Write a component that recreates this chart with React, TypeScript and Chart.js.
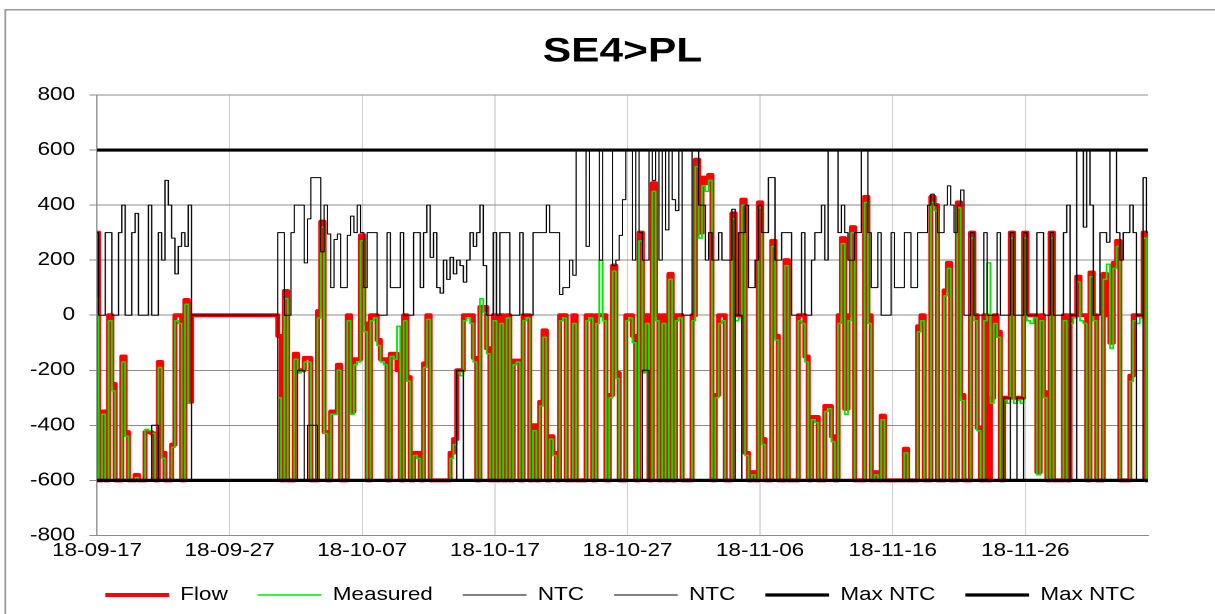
import React, { useEffect, useRef } from 'react';
import { Chart, registerables } from 'chart.js';

Chart.register(...registerables);

// ---- data (4 samples per day, starting 2018-09-17 00:00) ----
const STEPS_PER_DAY = 4;
const tickLabels = ['18-09-17', '18-09-27', '18-10-07', '18-10-17', '18-10-27', '18-11-06', '18-11-16', '18-11-26'];
const seriesNames = ['Flow', 'Measured', 'NTC', 'NTC', 'Max NTC', 'Max NTC'];

const flow = [
  300, -600, -350, -600,
  0, -250, -600, -600,
  -150, -425, -600, -600,
  -580, -600, -600, -425,
  -425, -430, -600, -170,
  -500, -600, -600, -470,
  0, 0, -600, 55,
  -315, 0, 0, 0,
  0, 0, 0, 0,
  0, 0, 0, 0,
  0, 0, 0, 0,
  0, 0, 0, 0,
  0, 0, 0, 0,
  0, 0, 0, -75,
  -600, 88, -600, -600,
  -140, -200, -200, -155,
  -155, -600, -600, 15,
  340, -425, -600, -350,
  -350, -180, -600, -600,
  0, -350, -160, -160,
  290, -30, -600, 0,
  0, -90, -160, -160,
  -600, -140, -140, -200,
  -600, 0, -225, -600,
  -500, -500, -600, -175,
  0, -600, -600, -600,
  -600, -600, -600, -500,
  -450, -200, -200, 0,
  0, 0, -155, -600,
  30, 30, -120, -600,
  0, -600, 0, -600,
  0, -600, -165, -165,
  -600, 0, 0, -600,
  -400, -600, -315, -55,
  -600, -440, -500, -600,
  0, 0, -600, -600,
  0, -600, -600, -600,
  0, 0, -600, 0,
  0, 0, -600, -290,
  180, -210, -600, -600,
  0, 0, -75, -600,
  300, -200, 0, -600,
  480, 0, -600, 0,
  -600, 150, -600, 0,
  0, -600, -600, -600,
  0, 565, 300, 500,
  480, 510, -600, -290,
  0, 0, -600, -600,
  370, 0, 0, 420,
  -500, -600, -570, -600,
  410, -450, -600, -600,
  270, -75, -600, -600,
  200, -600, -600, -600,
  0, 0, -150, -600,
  -370, -370, -600, -600,
  -330, -330, -440, -600,
  0, 280, -340, 0,
  320, -600, -600, -600,
  430, 0, -600, -570,
  -600, -365, -600, -600,
  -600, -600, -600, -600,
  -485, -600, -600, -600,
  -40, 0, -600, -600,
  430, 400, -600, -600,
  90, 190, -600, -600,
  410, -290, -600, -600,
  300, 0, -410, -600,
  0, -600, -300, 0,
  -60, -600, -300, -300,
  300, -300, -300, -300,
  300, 0, 0, 0,
  -570, 0, -280, -600,
  300, -600, -600, -600,
  0, -600, 0, 0,
  140, 0, 0, -600,
  155, 0, -600, -600,
  150, 0, -100, 190,
  270, -600, -600, -600,
  -220, 0, 0, 0,
  300, -600,
];

const measured = [
  60, -600, -360, -600,
  -20, -275, -600, -600,
  -170, -440, -600, -600,
  -590, -600, -600, -415,
  -420, -430, -600, -190,
  -520, -600, -600, -480,
  -20, -30, -600, 40,
  -320, null, null, null,
  null, null, null, null,
  null, null, null, null,
  null, null, null, null,
  null, null, null, null,
  null, null, null, null,
  null, null, null, -300,
  -600, 60, -600, -600,
  -160, -210, -200, -170,
  -170, -600, -600, -10,
  320, -430, -600, -360,
  -360, -200, -600, -600,
  -20, -360, -180, -170,
  270, -60, -600, -20,
  -10, -110, -170, -180,
  -600, -150, -160, -40,
  -600, -20, -240, -600,
  -510, -520, -600, -190,
  -15, -600, -600, -600,
  -600, -600, -600, -520,
  -470, -210, -220, -20,
  -10, -30, -170, -600,
  60, 10, -140, -600,
  -20, -600, -30, -600,
  -10, -600, -180, -170,
  -600, -20, -10, -600,
  -420, -600, -330, -80,
  -600, -450, -510, -600,
  -20, -10, -600, -600,
  -30, -600, -600, -600,
  -20, -10, -600, -30,
  200, -20, -600, -300,
  160, -230, -600, -600,
  -20, -10, -100, -600,
  270, -210, -30, -600,
  450, -20, -600, -30,
  -600, 130, -600, -20,
  -10, -600, -600, -600,
  -20, 540, 280, 470,
  450, 490, -600, -300,
  -30, -20, -600, -600,
  350, -20, -10, 400,
  -510, -600, -580, -600,
  390, -470, -600, -600,
  250, -90, -600, -600,
  180, -600, -600, -600,
  -20, -30, -170, -600,
  -380, -390, -600, -600,
  -350, -340, -460, -600,
  -30, 260, -360, -20,
  300, -600, -600, -600,
  410, -30, -600, -580,
  -600, -380, -600, -600,
  -600, -600, -600, -600,
  -500, -600, -600, -600,
  -60, -20, -600, -600,
  410, 380, -600, -600,
  70, 170, -600, -600,
  390, -310, -600, -600,
  280, -20, -420, -600,
  -20, 190, -320, -30,
  -80, -600, -310, -320,
  280, -320, -310, -320,
  280, -20, -30, -10,
  -580, -20, -300, -600,
  280, -600, -600, -600,
  -20, -600, -30, -10,
  120, -20, -30, -600,
  140, -20, -600, -600,
  130, 185, -120, 170,
  250, -600, -600, -600,
  -240, -20, -30, -10,
  280, -600,
];

const ntcExport = [
  300, 0, 0, 300,
  300, 0, 0, 300,
  400, 0, 0, 300,
  370, 0, 0, 0,
  400, 0, 0, 300,
  200, 490, 400, 280,
  150, 250, 300, 250,
  400, 0, 0, 0,
  0, 0, 0, 0,
  0, 0, 0, 0,
  0, 0, 0, 0,
  0, 0, 0, 0,
  0, 0, 0, 0,
  0, 0, 0, 300,
  300, 0, 0, 300,
  400, 400, 400, 190,
  350, 500, 500, 500,
  230, 400, 295, 100,
  275, 295, 100, 100,
  290, 360, 300, 400,
  300, 100, 300, 300,
  300, 0, 0, 0,
  300, 100, 100, 100,
  300, 0, 0, 0,
  300, 300, 100, 300,
  400, 210, 300, 100,
  80, 200, 130, 210,
  150, 200, 180, 120,
  200, 300, 250, 300,
  400, 180, 0, 0,
  300, 0, 300, 300,
  300, 0, 0, 0,
  300, 0, 0, 0,
  300, 300, 300, 300,
  400, 300, 300, 300,
  75, 100, 100, 200,
  145, 600, 600, 600,
  250, 600, 600, 600,
  200, 600, 600, 600,
  180, 200, 290, 420,
  600, 600, 200, 600,
  300, 200, 200, 600,
  490, 600, 200, 600,
  310, 600, 420, 380,
  600, 0, 0, 0,
  600, 600, 400, 400,
  200, 300, 200, 200,
  300, 200, 200, 200,
  385, 0, 300, 300,
  400, 100, 100, 200,
  400, 300, 300, 500,
  500, 200, 200, 300,
  300, 300, 0, 0,
  0, 300, 0, 0,
  200, 300, 300, 400,
  200, 600, 600, 600,
  300, 400, 300, 200,
  200, 300, 300, 600,
  600, 300, 100, 100,
  300, 0, 0, 0,
  300, 100, 100, 100,
  300, 300, 100, 100,
  300, 300, 300, 400,
  440, 400, 300, 300,
  400, 470, 400, 300,
  400, 455, 0, 0,
  300, 0, 0, 0,
  300, 0, 0, 0,
  300, 0, 0, 0,
  300, 0, 0, 0,
  300, 0, 0, 0,
  300, 300, 0, 0,
  300, 0, 0, 0,
  300, 400, 0, 0,
  600, 600, 320, 600,
  400, 0, 0, 300,
  300, 265, 600, 600,
  300, 200, 300, 300,
  400, 300, 0, 0,
  500, 300,
];

const ntcImport = [
  -600, -600, -600, -600,
  -600, -600, -600, -600,
  -600, -600, -600, -600,
  -600, -600, -600, -600,
  -600, -400, -400, -600,
  -600, -600, -600, -600,
  -600, -600, -600, -600,
  -600, 0, 0, 0,
  0, 0, 0, 0,
  0, 0, 0, 0,
  0, 0, 0, 0,
  0, 0, 0, 0,
  0, 0, 0, 0,
  0, 0, 0, -600,
  -600, -600, -600, -600,
  -600, -200, -200, -600,
  -400, -400, -400, -600,
  -600, -600, -600, -600,
  -600, -600, -600, -600,
  -600, -600, -600, -600,
  -600, -600, -600, -600,
  -600, -600, -600, -600,
  -600, -600, -600, -600,
  -600, -600, -600, -600,
  -600, -600, -600, -600,
  -600, -600, -600, -600,
  -600, -600, -600, -600,
  -600, -200, -200, -600,
  -600, -600, -600, -600,
  -600, -600, -600, -600,
  -600, -600, -600, -600,
  -600, -600, -600, -600,
  -600, -600, -600, -600,
  -600, -600, -600, -600,
  -600, -600, -600, -600,
  -600, -600, -600, -600,
  -600, -600, -600, -600,
  -600, -600, -600, -600,
  -600, -600, -600, -600,
  -600, -600, -600, -600,
  -600, -600, -600, -600,
  -600, -200, -200, -600,
  -600, -600, -600, -600,
  -600, -600, -600, -600,
  -600, -600, -600, -600,
  -600, -600, -600, -600,
  -600, -600, -600, -600,
  -600, -600, -600, -600,
  -600, 0, 0, -600,
  -600, -600, -600, -600,
  -600, -600, -600, -600,
  -600, -600, -600, -600,
  -600, -600, -600, -600,
  -600, -600, -600, -600,
  -600, -600, -600, -600,
  -600, -600, -600, -600,
  -600, -600, -600, -600,
  -600, -600, -600, -600,
  -600, -600, -600, -600,
  -600, -600, -600, -600,
  -600, -600, -600, -600,
  -600, -600, -600, -600,
  -600, -600, -600, -600,
  -600, -600, -600, -600,
  -600, -600, -600, -600,
  -600, -600, -600, -600,
  -600, -600, -600, -600,
  -600, -600, -600, -600,
  -600, -600, -300, -300,
  -600, -600, -300, -300,
  -600, -600, -600, -600,
  -600, -600, -600, -600,
  -600, -600, -600, -600,
  -600, -600, 0, 0,
  -600, -600, -600, -600,
  -600, -600, -600, -600,
  -600, -600, -600, -600,
  -600, -600, -600, -600,
  -600, -600, 0, 0,
  -600, -600,
];

const lastDay = (flow.length - 1) / STEPS_PER_DAY;
const maxNtcDays = [0, lastDay];
const maxNtcExport = [600, 600];
const maxNtcImport = [-600, -600];

// ---- layout (drawing is rendered narrow and stretched horizontally like the reference) ----
const DRAW_W = 972;
const DRAW_H = 614;
const SHOW_W = 1215;
const FONT = "'Liberation Sans', Arial, sans-serif";
const LEGEND_SHIFT = 25;

const toPoints = (vals: (number | null)[]) => vals.map((y, i) => ({ x: i / STEPS_PER_DAY, y }));
const toFixedPoints = (days: number[], vals: number[]) => vals.map((y, i) => ({ x: days[i], y }));

const framePlugin = {
  id: 'frame',
  afterLayout(chart: any) {
    const lg = chart.legend;
    if (lg) {
      lg.left += LEGEND_SHIFT;
      lg.right += LEGEND_SHIFT;
    }
  },
  beforeDraw(chart: any) {
    const ctx = chart.ctx;
    ctx.save();
    ctx.strokeStyle = '#9a9a9a';
    ctx.lineWidth = 1.5;
    ctx.beginPath();
    ctx.moveTo(4.3, chart.height);
    ctx.lineTo(4.3, 9.8);
    ctx.lineTo(chart.width, 9.8);
    ctx.stroke();
    ctx.restore();
  },
};

export default function App() {
  const ref = useRef<HTMLCanvasElement | null>(null);

  useEffect(() => {
    document.body.style.margin = '0';
    const canvas = ref.current;
    if (!canvas) return;
    const lineBase = { pointRadius: 0, tension: 0, fill: false, borderJoinStyle: 'round' as const, borderCapStyle: 'round' as const };
    const chart = new Chart(canvas, {
      type: 'line',
      data: {
        datasets: [
          { ...lineBase, stepped: 'middle', label: seriesNames[0], data: toPoints(flow), borderColor: '#ff0000', backgroundColor: '#ff0000', borderWidth: 4, order: 6 },
          { ...lineBase, stepped: 'middle', label: seriesNames[1], data: toPoints(measured), borderColor: '#00e800', backgroundColor: '#00e800', borderWidth: 1.5, order: 5 },
          { ...lineBase, stepped: 'middle', label: seriesNames[2], data: toPoints(ntcExport), borderColor: '#000000', backgroundColor: '#000000', borderWidth: 1, order: 4 },
          { ...lineBase, stepped: 'middle', label: seriesNames[3], data: toPoints(ntcImport), borderColor: '#000000', backgroundColor: '#000000', borderWidth: 1, order: 3 },
          { ...lineBase, label: seriesNames[4], data: toFixedPoints(maxNtcDays, maxNtcExport), borderColor: '#000000', backgroundColor: '#000000', borderWidth: 3.2, order: 2 },
          { ...lineBase, label: seriesNames[5], data: toFixedPoints(maxNtcDays, maxNtcImport), borderColor: '#000000', backgroundColor: '#000000', borderWidth: 3.2, order: 1 },
        ],
      },
      options: {
        responsive: false,
        animation: false,
        devicePixelRatio: 2,
        events: [],
        layout: { padding: { left: 24, right: 53.6, top: 0, bottom: 0 } },
        plugins: {
          tooltip: { enabled: false },
          title: {
            display: true,
            fullSize: false,
            text: 'SE4>PL',
            color: '#000',
            font: { family: FONT, size: 34, weight: 'bold' },
            padding: { top: 31.6, bottom: 22.6 },
          },
          legend: {
            position: 'bottom',
            labels: {
              usePointStyle: true,
              pointStyle: 'line',
              pointStyleWidth: 51,
              padding: 24,
              color: '#000',
              font: { family: FONT, size: 18 },
              sort: (a: any, b: any) => a.datasetIndex - b.datasetIndex,
            },
          },
        },
        scales: {
          x: {
            type: 'linear',
            min: 0,
            max: lastDay,
            ticks: {
              stepSize: 10,
              includeBounds: false,
              autoSkip: false,
              maxRotation: 0,
              color: '#000',
              padding: 5,
              font: { family: FONT, size: 18 },
              callback: (v: any) => {
                const idx = Number(v) / 10;
                return Number.isInteger(idx) && tickLabels[idx] ? tickLabels[idx] : '';
              },
            },
            grid: {
              color: (c: any) => (c.index === 0 ? '#8c8c8c' : '#d0d0d0'),
              drawTicks: false,
            },
            border: { color: '#8c8c8c' },
            afterFit: (s: any) => { s.height = 26.6; },
          },
          y: {
            min: -800,
            max: 800,
            ticks: {
              stepSize: 200,
              color: '#000',
              padding: 11.6,
              font: { family: FONT, size: 18 },
            },
            grid: { color: '#8c8c8c', tickLength: 6 },
            border: { color: '#8c8c8c' },
            afterFit: (s: any) => { s.width = 53.6; },
          },
        },
      },
      plugins: [framePlugin],
    } as any);
    return () => chart.destroy();
  }, []);

  return (
    <div style={{ width: SHOW_W, height: DRAW_H, overflow: 'hidden', background: '#fff' }}>
      <canvas
        ref={ref}
        width={DRAW_W}
        height={DRAW_H}
        style={{ display: 'block', width: `${SHOW_W}px`, height: `${DRAW_H}px` }}
      />
    </div>
  );
}
